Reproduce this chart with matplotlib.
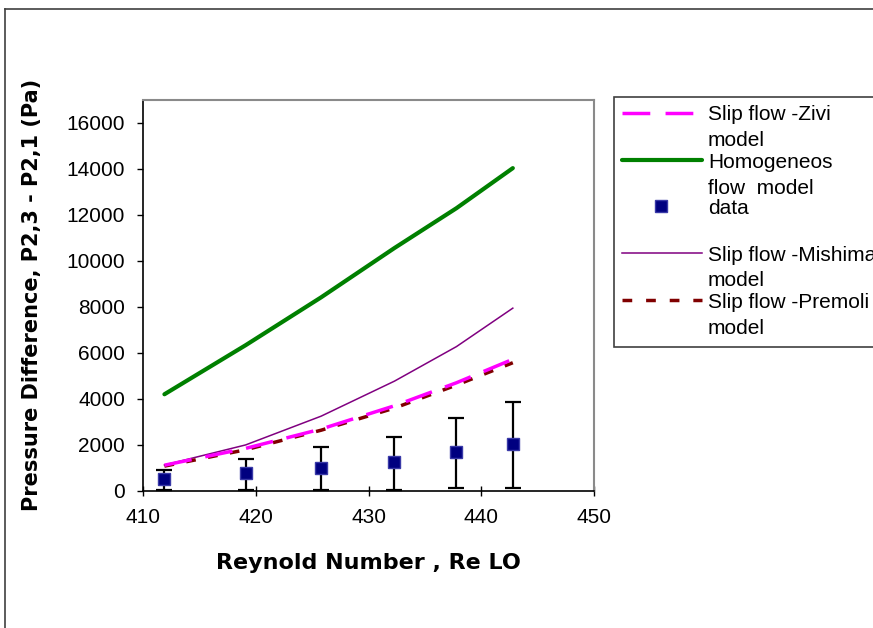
import matplotlib
matplotlib.use("Agg")
import matplotlib.pyplot as plt
from matplotlib.lines import Line2D
from matplotlib.patches import Rectangle
import numpy as np

plt.rcParams['font.family'] = ['Liberation Sans', 'DejaVu Sans']
plt.rcParams['lines.scale_dashes'] = False

# Reynolds number of the measured / modelled points
reynolds = [411.9, 419.1, 425.8, 432.3, 437.8, 442.8]

# Model predictions of the pressure difference (Pa)
zivi = [1120, 1850, 2690, 3700, 4700, 5720]
homogeneous = [4200, 6330, 8410, 10550, 12280, 14020]
mishima = [1130, 2000, 3250, 4770, 6270, 7940]
premoli = [1080, 1790, 2640, 3600, 4600, 5570]

# Measured data with lower / upper bounds of the error bars (Pa)
measured = [520, 770, 1015, 1245, 1695, 2040]
measured_low = [43, 43, 43, 43, 145, 145]
measured_high = [900, 1405, 1910, 2330, 3185, 3865]

x_ticks = [410, 420, 430, 440, 450]
y_ticks = [0, 2000, 4000, 6000, 8000, 10000, 12000, 14000, 16000]

W, H = 873, 628
fig = plt.figure(figsize=(W / 100, H / 100), dpi=100)


def fx(px):
    return px / W


def fy(py):
    return 1 - py / H


ax = fig.add_axes([fx(143), fy(491), fx(594) - fx(143), fy(99.5) - fy(491)])

ax.plot(reynolds, homogeneous, color='#008000', lw=3.0, solid_capstyle='round', zorder=3)
ax.plot(reynolds, mishima, color='#800080', lw=1.1, zorder=3)
ax.plot(reynolds, premoli, color='#800000', lw=2.5, linestyle=(0, (7, 9)), zorder=3)
ax.plot(reynolds, zivi, color='#FF00FF', lw=2.5, linestyle=(0, (20, 10)), zorder=4)

m = np.array(measured)
yerr = [m - np.array(measured_low), np.array(measured_high) - m]
ax.errorbar(reynolds, measured, yerr=yerr, fmt='none', ecolor='black',
            elinewidth=1.6, capsize=5.5, capthick=1.6, zorder=5)
ax.plot(reynolds, measured, linestyle='none', marker='s', markersize=8,
        markerfacecolor='#000080', markeredgecolor='#3a3aa8', markeredgewidth=1.0, zorder=6)

ax.set_xlim(410, 450)
ax.set_ylim(0, 17000)
ax.set_xticks(x_ticks)
ax.set_yticks(y_ticks)
ax.set_xticklabels([str(v) for v in x_ticks])
ax.set_yticklabels([str(v) for v in y_ticks])

ax.tick_params(axis='x', direction='inout', length=7, width=1, labelsize=15, pad=9)
ax.tick_params(axis='y', direction='out', length=4, width=1, labelsize=15, pad=9)

for side in ('left', 'bottom'):
    ax.spines[side].set_color('black')
    ax.spines[side].set_linewidth(1.2)
for side in ('top', 'right'):
    ax.spines[side].set_color('#8a8a8a')
    ax.spines[side].set_linewidth(1.5)

label_font = ['DejaVu Sans']
ax.set_xlabel('Reynold Number , Re LO', fontsize=16, fontweight='bold', family=label_font)
ax.set_ylabel('Pressure Difference, P2,3 - P2,1 (Pa)', fontsize=15, fontweight='bold',
              family=label_font)
ax.xaxis.set_label_coords(0.5, (491 - 553) / 391.5)
ax.yaxis.set_label_coords((42 - 143) / 451, 0.5)

# Outer frame around the chart area
fig.add_artist(Line2D([fx(5), fx(W + 5)], [fy(9), fy(9)], color='#404040', lw=1.2))
fig.add_artist(Line2D([fx(5), fx(5)], [fy(9), fy(H + 5)], color='#404040', lw=1.2))

# Legend panel
fig.add_artist(Rectangle((fx(614), fy(347)), fx(400), fy(97) - fy(347),
                         transform=fig.transFigure, facecolor='white',
                         edgecolor='#404040', lw=1.2))

tx = 708
line2 = 26
fs = 15
cap = 7.5

# Zivi
fig.add_artist(Line2D([fx(622), fx(694)], [fy(113), fy(113)], color='#FF00FF', lw=2.5,
                      linestyle=(0, (20, 11))))
fig.text(fx(tx), fy(113 + cap), 'Slip flow -Zivi', fontsize=fs, va='baseline')
fig.text(fx(tx), fy(113 + cap + line2), 'model', fontsize=fs, va='baseline')
# Homogeneous
fig.add_artist(Line2D([fx(622), fx(702)], [fy(160), fy(160)], color='#008000', lw=3.0,
                      solid_capstyle='round'))
fig.text(fx(tx), fy(160 + cap), 'Homogeneos', fontsize=fs, va='baseline')
fig.text(fx(tx), fy(160 + cap + line2), 'flow  model', fontsize=fs, va='baseline')
# Data
fig.add_artist(Line2D([fx(661)], [fy(206)], linestyle='none', marker='s', markersize=8,
                      markerfacecolor='#000080', markeredgecolor='#3a3aa8'))
fig.text(fx(tx), fy(206 + cap), 'data', fontsize=fs, va='baseline')
# Mishima
fig.add_artist(Line2D([fx(622), fx(702)], [fy(253), fy(253)], color='#800080', lw=1.1))
fig.text(fx(tx), fy(253 + cap), 'Slip flow -Mishima', fontsize=fs, va='baseline')
fig.text(fx(tx), fy(253 + cap + line2), 'model', fontsize=fs, va='baseline')
# Premoli
fig.add_artist(Line2D([fx(622), fx(702)], [fy(300), fy(300)], color='#800000', lw=2.5,
                      linestyle=(0, (7, 10))))
fig.text(fx(tx), fy(300 + cap), 'Slip flow -Premoli', fontsize=fs, va='baseline')
fig.text(fx(tx), fy(300 + cap + line2), 'model', fontsize=fs, va='baseline')

fig.savefig('out.png', dpi=100)
